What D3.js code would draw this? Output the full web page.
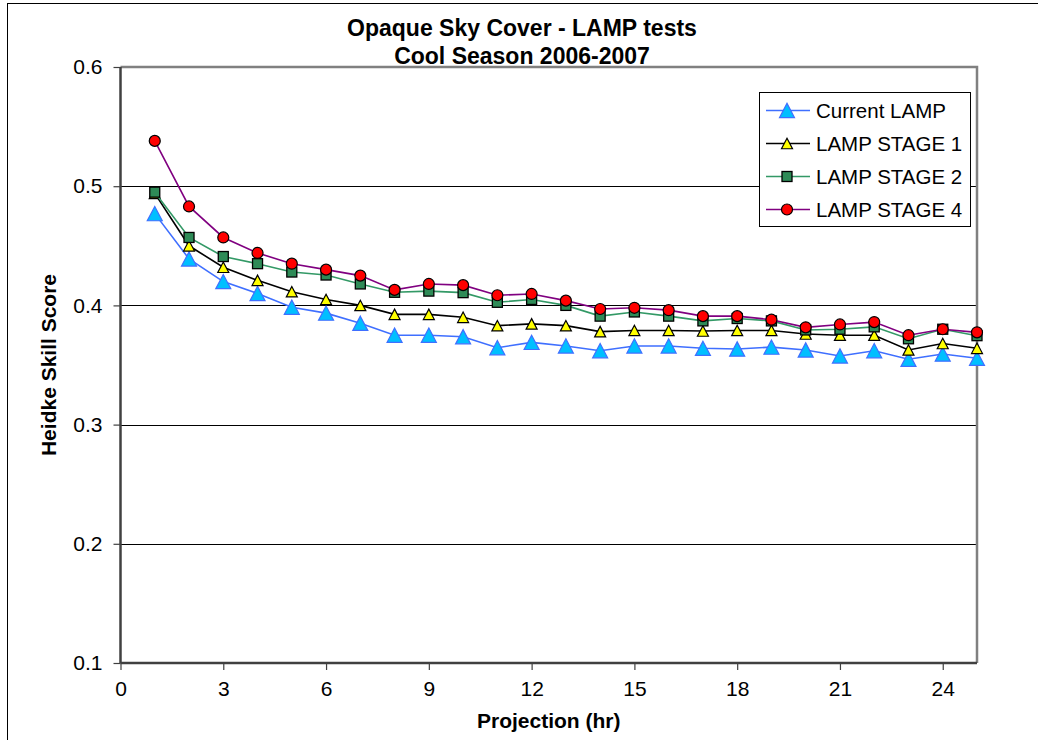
<!DOCTYPE html>
<html><head><meta charset="utf-8">
<script src="https://cdn.jsdelivr.net/npm/d3@7"></script>
<style>
body{margin:0;background:#fff;}
svg{display:block;font-family:"Liberation Sans",Arial,sans-serif;}
</style></head>
<body>
<svg id="chart" width="1038" height="740"></svg>
<script>
const hours = [1,2,3,4,5,6,7,8,9,10,11,12,13,14,15,16,17,18,19,20,21,22,23,24,25];
const currentLamp = [0.477,0.439,0.420,0.410,0.3985,0.3935,0.385,0.375,0.375,0.3737,0.3645,0.369,0.366,0.362,0.366,0.366,0.364,0.3634,0.365,0.3626,0.3576,0.362,0.3548,0.3592,0.3556];
const lampStage1 = [0.494,0.450,0.432,0.421,0.4115,0.405,0.400,0.3925,0.3925,0.390,0.383,0.3845,0.383,0.378,0.379,0.379,0.3785,0.379,0.379,0.376,0.375,0.375,0.3626,0.368,0.364];
const lampStage2 = [0.495,0.457,0.441,0.435,0.428,0.4255,0.418,0.411,0.412,0.4107,0.4026,0.405,0.400,0.391,0.3945,0.391,0.387,0.389,0.387,0.3794,0.380,0.382,0.372,0.380,0.3746];
const lampStage4 = [0.538,0.483,0.457,0.444,0.435,0.430,0.425,0.413,0.418,0.417,0.4085,0.4096,0.404,0.397,0.398,0.396,0.391,0.391,0.388,0.3816,0.384,0.386,0.375,0.380,0.3774];
const seriesNames = ["Current LAMP","LAMP STAGE 1","LAMP STAGE 2","LAMP STAGE 4"];
const xTicks = [0,3,6,9,12,15,18,21,24];
const yTicks = [0.1,0.2,0.3,0.4,0.5,0.6];
const titleLines = ["Opaque Sky Cover - LAMP tests","Cool Season 2006-2007"];
const xTitle = "Projection (hr)";
const yTitle = "Heidke Skill Score";

const styles = [
  {line:"#3F6FFF", fill:"#00BFFF", stroke:"#3F6FFF", shape:"tri", size:15},
  {line:"#000000", fill:"#FFFF00", stroke:"#000000", shape:"tri", size:11},
  {line:"#339966", fill:"#2E8B57", stroke:"#000000", shape:"sq", size:10},
  {line:"#800080", fill:"#FF0000", stroke:"#000000", shape:"circ", size:11}
];
const allData = [currentLamp, lampStage1, lampStage2, lampStage4];

const svg = d3.select("#chart");
const L = 120.5, R = 977, T = 67, B = 663;
const x = d3.scaleLinear().domain([0,25]).range([L,R]);
const y = d3.scaleLinear().domain([0.1,0.6]).range([B,T]);

// outer chart border
svg.append("rect").attr("x",7.5).attr("y",3.5).attr("width",1040).attr("height",745)
  .attr("fill","#fff").attr("stroke","#000").attr("stroke-width",1);

// gridlines
svg.append("g").selectAll("line").data(yTicks.filter(d=>d>0.1 && d<0.6)).join("line")
  .attr("x1",L).attr("x2",R).attr("y1",d=>Math.round(y(d))+0.5).attr("y2",d=>Math.round(y(d))+0.5)
  .attr("stroke","#000").attr("stroke-width",1);

// plot frame top & right (gray)
svg.append("path").attr("d",`M${L},${T}H${R}V${B}`).attr("fill","none").attr("stroke","#808080").attr("stroke-width",2.5);

// axes
const fmt = d3.format(".1f");
const yAxis = svg.append("g").attr("transform",`translate(${L},0)`)
  .call(d3.axisLeft(y).tickValues(yTicks).tickFormat(fmt).tickSize(7).tickPadding(11));
const xAxis = svg.append("g").attr("transform",`translate(0,${B})`)
  .call(d3.axisBottom(x).tickValues(xTicks).tickFormat(d3.format("d")).tickSize(7).tickPadding(11));
[yAxis,xAxis].forEach(a=>{
  a.select(".domain").attr("stroke","#404040").attr("stroke-width",2.5);
  a.selectAll(".tick line").attr("stroke","#404040").attr("stroke-width",1.2);
  a.selectAll(".tick text").attr("font-size",21).attr("fill","#000")
    .attr("font-family","'Liberation Sans',Arial,sans-serif");
});
// remove outer domain tick ends
yAxis.select(".domain").attr("d",`M0,${B}V${T}`);
xAxis.select(".domain").attr("d",`M${L},0H${R}`);

// marker drawing
function marker(g, st, cx, cy){
  const s = st.size;
  if(st.shape==="tri"){
    const h = s*0.95;
    g.append("path").attr("d",`M${cx},${cy-h/2}L${cx+s/2},${cy+h/2}L${cx-s/2},${cy+h/2}Z`)
      .attr("fill",st.fill).attr("stroke",st.stroke).attr("stroke-width",1.2).attr("stroke-linejoin","miter");
  } else if(st.shape==="sq"){
    g.append("rect").attr("x",cx-s/2).attr("y",cy-s/2).attr("width",s).attr("height",s)
      .attr("fill",st.fill).attr("stroke",st.stroke).attr("stroke-width",1.3);
  } else {
    g.append("circle").attr("cx",cx).attr("cy",cy).attr("r",s/2)
      .attr("fill",st.fill).attr("stroke",st.stroke).attr("stroke-width",1.2);
  }
}

const line = d3.line().x((d,i)=>x(hours[i])).y(d=>y(d));
allData.forEach((vals,k)=>{
  const st = styles[k];
  const g = svg.append("g");
  g.append("path").attr("d",line(vals)).attr("fill","none").attr("stroke",st.line).attr("stroke-width",1.6);
  vals.forEach((v,i)=>marker(g, st, x(hours[i]), y(v)));
});

// title
const title = svg.append("text").attr("text-anchor","middle").attr("font-weight","bold").attr("font-size",23);
titleLines.forEach((t,i)=>title.append("tspan").attr("x",522).attr("y",36+i*28).text(t));

// axis titles
svg.append("text").attr("x",(L+R)/2).attr("y",728).attr("text-anchor","middle")
  .attr("font-weight","bold").attr("font-size",21).text(xTitle);
svg.append("text").attr("transform",`translate(56,${(T+B)/2}) rotate(-90)`).attr("text-anchor","middle")
  .attr("font-weight","bold").attr("font-size",21).text(yTitle);

// legend
const lg = svg.append("g");
lg.append("rect").attr("x",759.5).attr("y",92.5).attr("width",211).attr("height",134)
  .attr("fill","#fff").attr("stroke","#000").attr("stroke-width",1);
seriesNames.forEach((name,k)=>{
  const cy = 110.5 + k*33;
  const st = styles[k];
  lg.append("line").attr("x1",766).attr("x2",810).attr("y1",cy).attr("y2",cy).attr("stroke",st.line).attr("stroke-width",1.6);
  marker(lg, st, 787, cy);
  lg.append("text").attr("x",816).attr("y",cy).attr("dy","0.36em").attr("font-size",20.5).text(name);
});
</script>
</body></html>
